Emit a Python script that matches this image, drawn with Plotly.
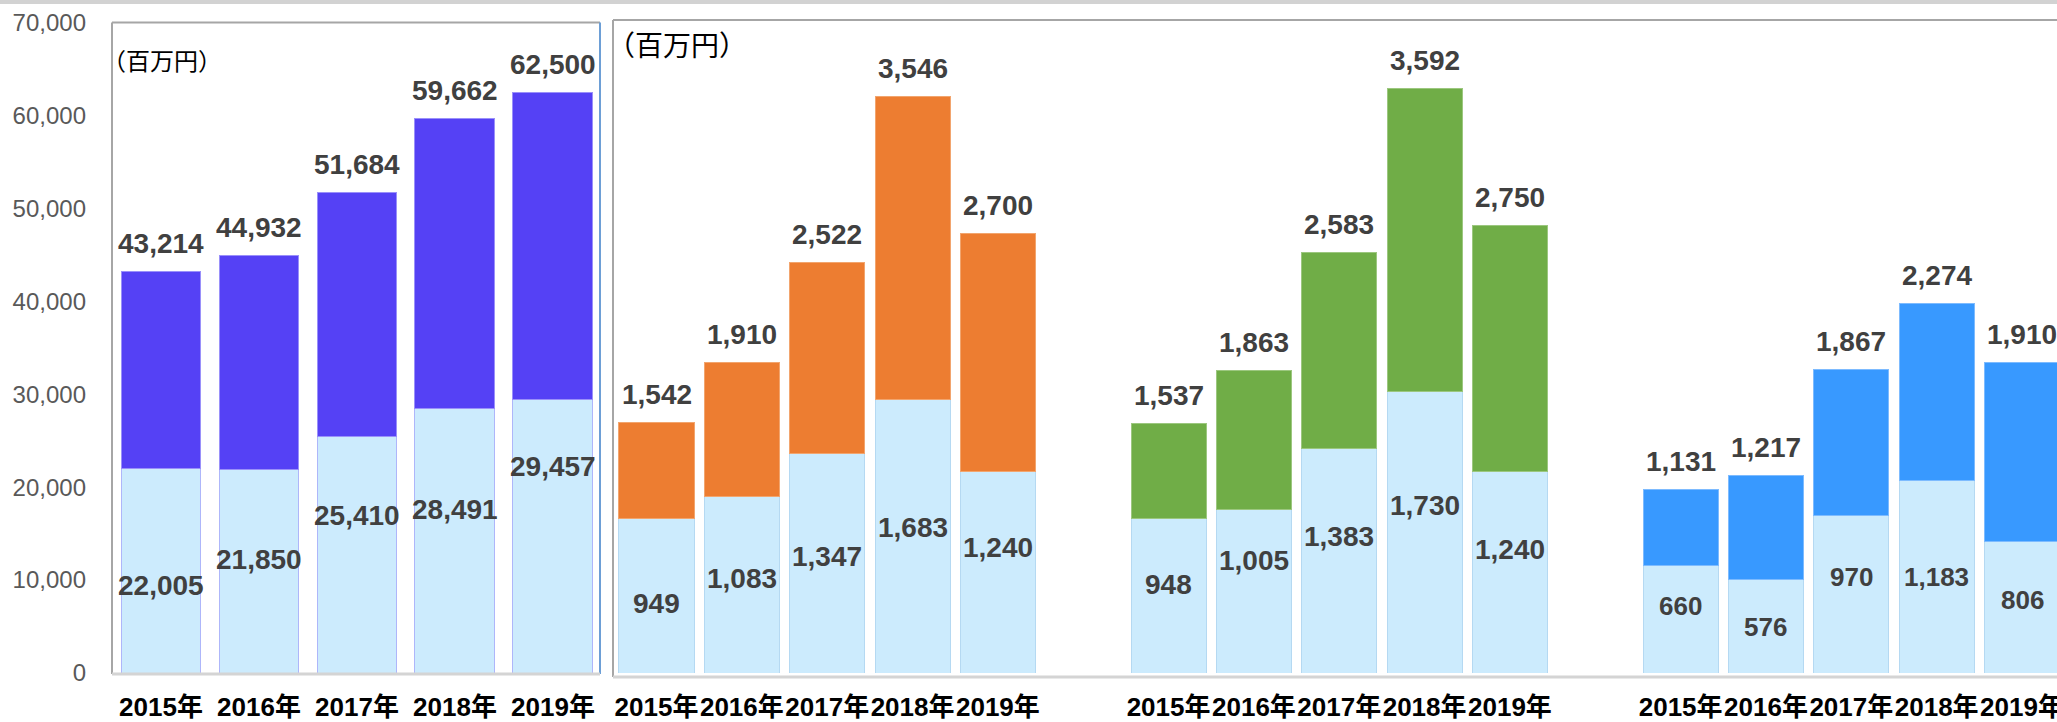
import plotly.graph_objects as go

# ---------------- data ----------------
years = ["2015年", "2016年", "2017年", "2018年", "2019年"]

total_left = [43214, 44932, 51684, 59662, 62500]
base_left = [22005, 21850, 25410, 28491, 29457]

orange_total = [1542, 1910, 2522, 3546, 2700]
orange_base = [949, 1083, 1347, 1683, 1240]

green_total = [1537, 1863, 2583, 3592, 2750]
green_base = [948, 1005, 1383, 1730, 1240]

blue_total = [1131, 1217, 1867, 2274, 1910]
blue_base = [660, 576, 970, 1183, 806]

y_left_ticks = [0, 10000, 20000, 30000, 40000, 50000, 60000, 70000]
unit_label = "（百万円）"

# ---------------- label placement (fraction of light segment) ----------------
frac_left = [0.43, 0.557, 0.669, 0.616, 0.756]
frac_orange = [0.453, 0.539, 0.534, 0.530, 0.620]
frac_green = [0.577, 0.691, 0.605, 0.597, 0.610]
frac_blue = [0.624, 0.491, 0.608, 0.499, 0.557]

# ---------------- styles ----------------
W, H = 2057, 722
LIGHT = "#CCEBFD"
PURPLE = "#5541F5"
ORANGE = "#ED7D31"
GREEN = "#70AD47"
BLUE = "#3899FF"
TXT = "#404040"
FONT = "Liberation Sans, Arial, Noto Sans CJK JP, sans-serif"
CJK = "Noto Sans CJK JP, sans-serif"

def px_x(p):
    return p / W

def px_y(p):
    return 1 - p / H

fig = go.Figure()

# ---- left panel ----
xl = list(range(len(years)))
fig.add_trace(go.Bar(x=xl, y=base_left, marker=dict(color=LIGHT, line=dict(color="#AEB6FA", width=1)),
                     width=0.816, xaxis="x", yaxis="y", hoverinfo="skip"))
fig.add_trace(go.Bar(x=xl, y=[t - b for t, b in zip(total_left, base_left)],
                     marker=dict(color=PURPLE, line=dict(color="#9A90FA", width=1)),
                     width=0.816, xaxis="x", yaxis="y", hoverinfo="skip"))

# ---- right panel ----
groups = [
    (orange_total, orange_base, ORANGE, "#F2A56E", frac_orange, 28),
    (green_total, green_base, GREEN, "#9CC77F", frac_green, 28),
    (blue_total, blue_base, BLUE, "#7DBBFF", frac_blue, 26),
]
xr_all, base_all = [], []
for gi, g in enumerate(groups):
    xs = [gi * 6 + i for i in range(len(years))]
    xr_all += xs
    base_all += g[1]
fig.add_trace(go.Bar(x=xr_all, y=base_all, marker=dict(color=LIGHT, line=dict(color="#B5D9F2", width=1)),
                     width=0.88, xaxis="x2", yaxis="y2", hoverinfo="skip"))
for gi, (tot, base, col, lcol, fr, fs) in enumerate(groups):
    xs = [gi * 6 + i for i in range(len(years))]
    fig.add_trace(go.Bar(x=xs, y=[t - b for t, b in zip(tot, base)],
                         marker=dict(color=col, line=dict(color=lcol, width=1)),
                         width=0.88, xaxis="x2", yaxis="y2", hoverinfo="skip"))

annotations = []
# left labels
for i in range(len(years)):
    annotations.append(dict(x=xl[i], y=total_left[i], xref="x", yref="y", text=f"{total_left[i]:,}",
                            showarrow=False, yanchor="middle", yshift=28,
                            font=dict(family=FONT, size=28, color=TXT, weight="bold")))
    annotations.append(dict(x=xl[i], y=base_left[i] * frac_left[i], xref="x", yref="y",
                            text=f"{base_left[i]:,}", showarrow=False, yanchor="middle",
                            font=dict(family=FONT, size=28, color=TXT, weight="bold")))
# right labels
for gi, (tot, base, col, lcol, fr, fs) in enumerate(groups):
    for i in range(len(years)):
        x = gi * 6 + i
        annotations.append(dict(x=x, y=tot[i], xref="x2", yref="y2", text=f"{tot[i]:,}",
                                showarrow=False, yanchor="middle", yshift=28,
                                font=dict(family=FONT, size=28, color=TXT, weight="bold")))
        annotations.append(dict(x=x, y=base[i] * fr[i], xref="x2", yref="y2", text=f"{base[i]:,}",
                                showarrow=False, yanchor="middle",
                                font=dict(family=FONT, size=fs, color=TXT, weight="bold")))

annotations.append(dict(x=px_x(100), y=px_y(60), xref="paper", yref="paper", text=unit_label,
                        showarrow=False, xanchor="left", yanchor="middle",
                        font=dict(family=CJK, size=24, color="#000000")))
annotations.append(dict(x=px_x(605), y=px_y(44), xref="paper", yref="paper", text=unit_label,
                        showarrow=False, xanchor="left", yanchor="middle",
                        font=dict(family=CJK, size=28, color="#000000")))

shapes = [
    # top shadow strip
    dict(type="rect", xref="paper", yref="paper", x0=0, x1=1, y0=px_y(4), y1=1,
         fillcolor="#D2D2D2", line=dict(width=0), layer="above"),
    # left box
    dict(type="line", xref="paper", yref="paper", x0=px_x(112), x1=px_x(112), y0=px_y(674), y1=px_y(22.5),
         line=dict(color="#A6A6A6", width=2)),
    dict(type="line", xref="paper", yref="paper", x0=px_x(112), x1=px_x(600), y0=px_y(22.5), y1=px_y(22.5),
         line=dict(color="#A6A6A6", width=2)),
    dict(type="line", xref="paper", yref="paper", x0=px_x(600), x1=px_x(600), y0=px_y(674), y1=px_y(22.5),
         line=dict(color="#6D9FD6", width=2)),
    dict(type="line", xref="paper", yref="paper", x0=px_x(112), x1=px_x(600), y0=px_y(674), y1=px_y(674),
         line=dict(color="#D4D4D4", width=3)),
    # right box
    dict(type="line", xref="paper", yref="paper", x0=px_x(613), x1=px_x(613), y0=px_y(677), y1=px_y(20),
         line=dict(color="#A6A6A6", width=2)),
    dict(type="line", xref="paper", yref="paper", x0=px_x(613), x1=1, y0=px_y(20), y1=px_y(20),
         line=dict(color="#A6A6A6", width=2)),
    dict(type="line", xref="paper", yref="paper", x0=px_x(613), x1=1, y0=px_y(677), y1=px_y(677),
         line=dict(color="#D4D4D4", width=3)),
]

ydom = [px_y(673), px_y(22.5)]
fig.update_layout(
    width=W, height=H,
    margin=dict(l=0, r=0, t=0, b=0, autoexpand=False),
    paper_bgcolor="white", plot_bgcolor="white",
    barmode="stack", showlegend=False,
    annotations=annotations, shapes=shapes,
    xaxis=dict(domain=[px_x(112), px_x(600)], range=[-0.5, 4.48], tickmode="array",
               tickvals=xl, ticktext=years, showgrid=False, zeroline=False, showline=False,
               ticks="", ticklabelstandoff=16, automargin=False, ticklabeloverflow="allow",
               tickangle=0,
               tickfont=dict(family=FONT, size=26, color="#000000", weight="bold")),
    yaxis=dict(domain=ydom, range=[0, 70000], tickmode="array", tickvals=y_left_ticks,
               tickformat=",d", showgrid=False, zeroline=False, showline=False, ticks="",
               ticklabelstandoff=25, automargin=False, ticklabeloverflow="allow",
               tickfont=dict(family=FONT, size=24, color="#595959")),
    xaxis2=dict(domain=[px_x(613), 1], range=[-0.51, 16.41], anchor="y2", tickmode="array",
                tickvals=xr_all, ticktext=years * 3, showgrid=False, zeroline=False, showline=False,
                ticks="", ticklabelstandoff=16, automargin=False, ticklabeloverflow="allow",
                tickangle=0,
                tickfont=dict(family=FONT, size=26, color="#000000", weight="bold")),
    yaxis2=dict(domain=ydom, range=[0, 4000], anchor="x2", showticklabels=False,
                showgrid=False, zeroline=False, showline=False, automargin=False),
)

fig.write_html("out.html", config={"displayModeBar": False},
               post_script="document.body.style.margin='0';document.body.style.overflow='hidden';")
